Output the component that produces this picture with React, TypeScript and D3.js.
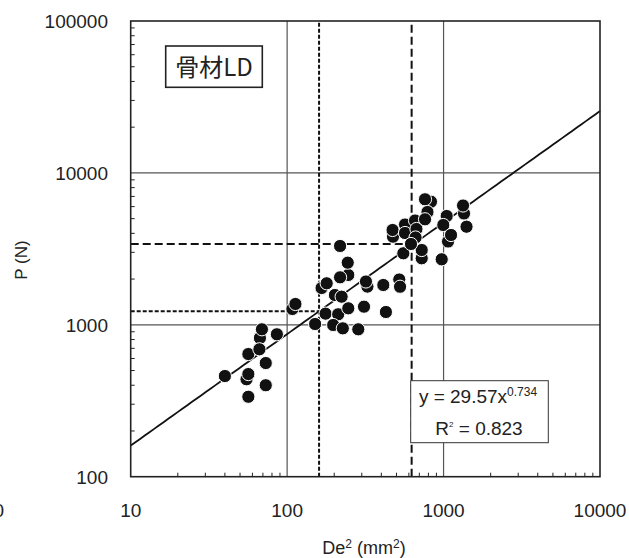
import React from "react";
import * as d3 from "d3";

const xBehind = [55, 67, 108, 521, 725, 475, 831, 1351, 1068, 246, 326];
const yBehind = [438, 819, 1271, 1987, 2741, 3802, 6463, 5404, 3535, 2128, 1784];
const xFront = [40, 56.5, 73, 73, 56.5, 56.5, 66.5, 69, 86, 113, 151, 176, 212, 197, 227, 285, 246, 310, 428, 202, 223, 166, 179, 218, 244, 218, 319, 412, 527, 553, 725, 973, 472, 567, 567, 657, 671, 662, 761, 789, 761, 1047, 996, 1332, 1402, 1116, 619];
const yFront = [460, 474, 560, 400, 336, 642, 690, 934, 866, 1371, 1012, 1184, 1173, 997, 948, 934, 1284, 1316, 1214, 1571, 1531, 1747, 1876, 2054, 2564, 3303, 1928, 1828, 1781, 2956, 3107, 2699, 4209, 4574, 4020, 4860, 4273, 3756, 6703, 5528, 4949, 5202, 4540, 6101, 4424, 3901, 3404];

const xTicks = [10, 100, 1000, 10000];
const yTicks = [100, 1000, 10000, 100000];
const xTickLabels = ["10", "100", "1000", "10000"];
const yTickLabels = ["100", "1000", "10000", "100000"];
const gridX = [100, 1000];
const gridY = [1000, 10000];
const fitA = 29.57;
const fitB = 0.734;
const refX = [160, 625];
const refY = [1230, 3400];
const seriesName = "骨材LD";
const eqLine1 = "y = 29.57x";
const eqExp = "0.734";
const eqLine2 = "R";
const eqLine2b = " = 0.823";

export default function App() {
  const x = d3.scaleLog().domain([10, 10000]).range([130.7, 600]);
  const y = d3.scaleLog().domain([100, 100000]).range([476.7, 21]);
  const font = "'Liberation Sans', Arial, Helvetica, sans-serif";

  const minorX: number[] = [];
  for (let d = 10; d < 10000; d *= 10) for (let k = 2; k <= 9; k++) minorX.push(d * k);
  const minorY: number[] = [];
  for (let d = 100; d < 100000; d *= 10) for (let k = 2; k <= 9; k++) minorY.push(d * k);

  const fitXs = d3.range(0, 101).map((i) => Math.pow(10, 1 + (3 * i) / 100));
  const line = d3
    .line<number>()
    .x((v) => x(v))
    .y((v) => y(fitA * Math.pow(v, fitB)));

  const pts = [
    ...xBehind.map((v, i) => [v, yBehind[i]]),
    ...xFront.map((v, i) => [v, yFront[i]]),
  ];

  const dashes = ["4,2", "8,4"];

  return (
    <svg
      width={629}
      height={558}
      style={{ position: "absolute", left: 0, top: 0, background: "#fff" }}
      fontFamily={font}
    >
      <rect x={0} y={0} width={629} height={558} fill="#fff" />
      {gridX.map((g) => (
        <line key={"gx" + g} x1={x(g)} x2={x(g)} y1={y(100)} y2={y(100000)} stroke="#555" strokeWidth={1.2} />
      ))}
      {gridY.map((g) => (
        <line key={"gy" + g} x1={x(10)} x2={x(10000)} y1={y(g)} y2={y(g)} stroke="#555" strokeWidth={1.2} />
      ))}
      {refX.map((v, i) => (
        <line key={"rx" + i} x1={x(v)} x2={x(v)} y1={y(100)} y2={y(100000)} stroke="#111" strokeWidth={2} strokeDasharray={dashes[i]} />
      ))}
      {refY.map((v, i) => (
        <line key={"ry" + i} x1={x(10)} x2={x(refX[i])} y1={y(v)} y2={y(v)} stroke="#111" strokeWidth={2} strokeDasharray={dashes[i]} />
      ))}
      {minorX.map((v) => (
        <line key={"mx" + v} x1={x(v)} x2={x(v)} y1={y(100)} y2={y(100) - 4} stroke="#222" strokeWidth={1} />
      ))}
      {minorY.map((v) => (
        <line key={"my" + v} x1={x(10)} x2={x(10) + 4} y1={y(v)} y2={y(v)} stroke="#222" strokeWidth={1} />
      ))}
      <path d={line(fitXs) || ""} fill="none" stroke="#111" strokeWidth={1.8} />
      {pts.map((p, i) => (
        <circle key={"p" + i} cx={x(p[0])} cy={y(p[1])} r={6.6} fill="#111" stroke="#fff" strokeWidth={1} />
      ))}
      <rect x={x(10)} y={y(100000)} width={x(10000) - x(10)} height={y(100) - y(100000)} fill="none" stroke="#222" strokeWidth={1.6} />
      {yTicks.map((t, i) => (
        <text key={"yt" + t} x={108} y={y(t)} dy="0.36em" textAnchor="end" fontSize={19} fill="#222">
          {yTickLabels[i]}
        </text>
      ))}
      {xTicks.map((t, i) => (
        <text key={"xt" + t} x={x(t)} y={510} dy="0.36em" textAnchor="middle" fontSize={19} fill="#222">
          {xTickLabels[i]}
        </text>
      ))}
      <text x={4} y={510} dy="0.36em" textAnchor="end" fontSize={19} fill="#222">0</text>
      <text transform="translate(27,260) rotate(-90)" textAnchor="middle" fontSize={17} fill="#222">P (N)</text>
      <text x={364} y={548} dy="0.36em" textAnchor="middle" fontSize={18} fill="#222">
        De<tspan fontSize={12} dy="-6">2</tspan>
        <tspan dy="6"> (mm</tspan>
        <tspan fontSize={12} dy="-6">2</tspan>
        <tspan dy="6">)</tspan>
      </text>
      <rect x={165.7} y={46} width={96.6} height={41.3} fill="#fff" stroke="#222" strokeWidth={1.6} />
      <text x={214} y={67} dy="0.36em" textAnchor="middle" fontSize={24} fill="#222" fontFamily="'Noto Sans CJK JP', 'Liberation Sans', sans-serif">
        {seriesName}
      </text>
      <rect x={410.7} y={380.7} width={137.6} height={62} fill="#fff" stroke="#333" strokeWidth={1} />
      <text x={478} y={396} dy="0.36em" textAnchor="middle" fontSize={19} fill="#222">
        {eqLine1}
        <tspan fontSize={12} dy="-7">{eqExp}</tspan>
      </text>
      <text x={479} y={428} dy="0.36em" textAnchor="middle" fontSize={19} fill="#222">
        {eqLine2}
        <tspan fontSize={8} dy="-8">2</tspan>
        <tspan dy="8">{eqLine2b}</tspan>
      </text>
    </svg>
  );
}
